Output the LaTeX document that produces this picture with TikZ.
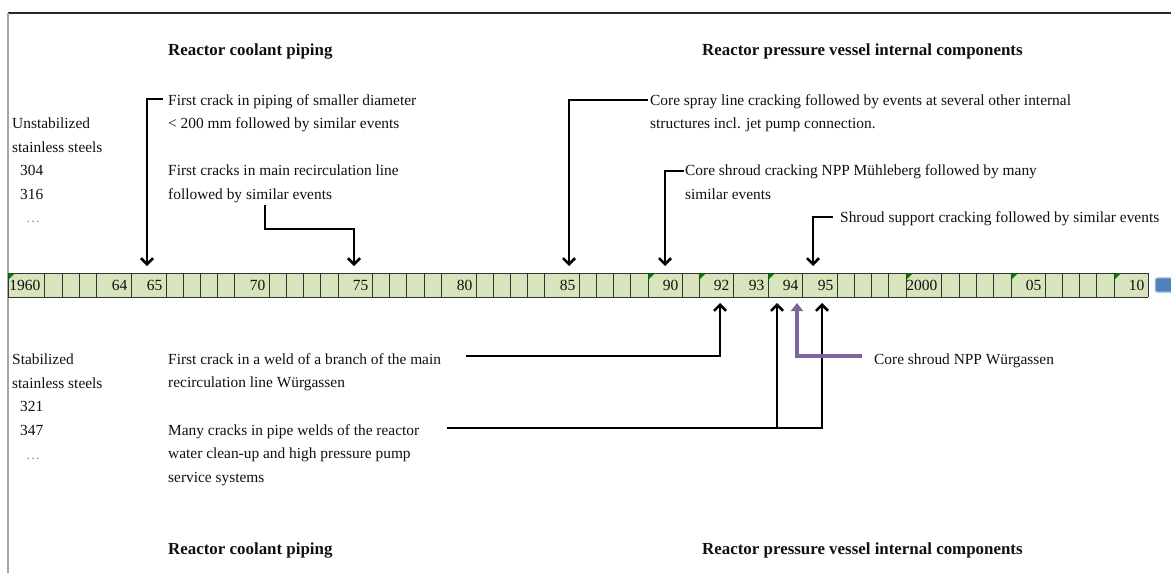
\documentclass[tikz,border=0pt]{standalone}
\usepackage{fontspec}
\setmainfont{Liberation Serif}
\usetikzlibrary{arrows.meta}
\definecolor{cellgreen}{HTML}{D8E4BC}
\definecolor{purp}{HTML}{8064A2}
\definecolor{cmtgreen}{HTML}{008000}
\definecolor{barblue}{HTML}{4F81BD}
\definecolor{barblue2}{HTML}{8DB0DC}
\definecolor{txtc}{HTML}{140E0E}
\begin{document}
\begin{tikzpicture}[x=1pt,y=-1pt,
  txt/.style={anchor=base west, inner sep=0pt, text=txtc, font=\fontsize{15.4}{18}\selectfont},
  hdr/.style={anchor=base west, inner sep=0pt, text=txtc, font=\fontsize{16.9}{20}\selectfont\bfseries},
  yr/.style={anchor=base east, inner sep=0pt, text=txtc, font=\fontsize{15.5}{18}\selectfont},
  dots/.style={anchor=base west, inner sep=0pt, text=black!45, font=\fontsize{14}{16}\selectfont},
  arr/.style={draw=black, line width=2.8pt, -{Straight Barb[length=6pt,width=12pt,line width=2.6pt]}},
  parr/.style={draw=purp, line width=3.4pt, -{Triangle[length=8pt,width=12pt]}},
  gridline/.style={draw=black!80, line width=1pt},
  cmt/.style={fill=cmtgreen, draw=none},
]
\useasboundingbox (0,0) rectangle (1171,573);

% frame lines
\draw[black!85, line width=1.2pt] (8,13) -- (1171,13);
\draw[black!35, line width=1.6pt] (8,13) -- (8,573);

% headers
\node[hdr] (h1) at (168,55) {Reactor coolant piping};
\node[hdr] (h2) at (702,55) {Reactor pressure vessel internal components};
\node[hdr] (h3) at (168,554) {Reactor coolant piping};
\node[hdr] (h4) at (702,554) {Reactor pressure vessel internal components};

% timeline bar
\fill[cellgreen] (8,273) rectangle (1148,297);
\foreach \bx in {8,44,62,79,96,131,166,183,200,217,234,269,286,303,320,338,372,389,406,424,441,476,493,510,527,544,579,596,613,630,648,682,699,733,768,802,837,854,871,888,906,941,959,976,993,1011,1045,1062,1079,1096,1114,1148}
  \draw[gridline] (\bx,273) -- (\bx,297);
\draw[gridline] (8,273) -- (1148,273);
\draw[gridline] (8,297) -- (1148,297);
\foreach \cx in {8,648,699,768,906,1011,1114}
  \fill[cmt] (\cx+0.5,273.5) -- (\cx+6.5,273.5) -- (\cx+0.5,279.5) -- cycle;
\draw[barblue2, line width=1.2pt, fill=barblue, rounded corners=2pt] (1155.5,278) rectangle (1173,292);

% year labels
\node[yr] (y60) at (40.5,290.5) {1960};
\node[yr] (y64) at (127.5,290.5) {64};
\node[yr] (y65) at (162.5,290.5) {65};
\node[yr] (y70) at (265.5,290.5) {70};
\node[yr] (y75) at (368.5,290.5) {75};
\node[yr] (y80) at (472.5,290.5) {80};
\node[yr] (y85) at (575.5,290.5) {85};
\node[yr] (y90) at (678.5,290.5) {90};
\node[yr] (y92) at (729.5,290.5) {92};
\node[yr] (y93) at (764.5,290.5) {93};
\node[yr] (y94) at (798.5,290.5) {94};
\node[yr] (y95) at (833.5,290.5) {95};
\node[yr] (y00) at (937.5,290.5) {2000};
\node[yr] (y05) at (1041.5,290.5) {05};
\node[yr] (y10) at (1144.5,290.5) {10};

% left labels, top
\node[txt] (u1) at (12,128.5) {Unstabilized};
\node[txt] (u2) at (12,152) {stainless steels};
\node[txt] (u3) at (20,175.5) {304};
\node[txt] (u4) at (20,199) {316};
\node[dots] (u5) at (26,222) {\dots};

% left labels, bottom
\node[txt] (s1) at (12,364) {Stabilized};
\node[txt] (s2) at (12,388) {stainless steels};
\node[txt] (s3) at (20,411.5) {321};
\node[txt] (s4) at (20,435) {347};
\node[dots] (s5) at (26,459) {\dots};

% event texts, top
\node[txt] (e1a) at (168,105) {First crack in piping of smaller diameter};
\node[txt] (e1b) at (168,128.5) {< 200 mm followed by similar events};
\node[txt] (e2a) at (168,175.5) {First cracks in main recirculation line};
\node[txt] (e2b) at (168,199) {followed by similar events};
\node[txt] (e3a) at (650,105) {Core spray line cracking followed by events at several other internal};
\node[txt] (e3b) at (650,128.5) {structures incl. jet pump connection.};
\node[txt] (e4a) at (685,175.5) {Core shroud cracking NPP Mühleberg followed by many};
\node[txt] (e4b) at (685,199) {similar events};
\node[txt] (e5) at (840,222.5) {Shroud support cracking followed by similar events};

% event texts, bottom
\node[txt] (e6a) at (168,364) {First crack in a weld of a branch of the main};
\node[txt] (e6b) at (168,387.5) {recirculation line Würgassen};
\node[txt] (e7a) at (168,435) {Many cracks in pipe welds of the reactor};
\node[txt] (e7b) at (168,458.5) {water clean-up and high pressure pump};
\node[txt] (e7c) at (168,482) {service systems};
\node[txt] (e8) at (874,364) {Core shroud NPP Würgassen};

% arrow coordinates
\coordinate (a1s) at (163,99);   \coordinate (a1t) at (147,266);
\coordinate (a2s) at (265,205);  \coordinate (a2m) at (354,229); \coordinate (a2t) at (354,266);
\coordinate (a3s) at (648,100);  \coordinate (a3t) at (569,266);
\coordinate (a4s) at (684,171);  \coordinate (a4t) at (665,266);
\coordinate (a5s) at (833,217);  \coordinate (a5t) at (813,266);
\coordinate (b1s) at (466,356);  \coordinate (b1t) at (720,303);
\coordinate (b2s) at (447,428);  \coordinate (b2t) at (822,303);
\coordinate (b3s) at (777,428);  \coordinate (b3t) at (777,303);
\coordinate (ps) at (862,356);   \coordinate (pt) at (797,303);

\draw[arr] (a1s) -| (a1t);
\draw[arr] (a2s) |- (a2m) -- (a2t);
\draw[arr] (a3s) -| (a3t);
\draw[arr] (a4s) -| (a4t);
\draw[arr] (a5s) -| (a5t);
\draw[arr] (b1s) -| (b1t);
\draw[arr] (b2s) -| (b2t);
\draw[arr] (b3s) -- (b3t);
\draw[parr] (ps) -| (pt);
\end{tikzpicture}
\end{document}
